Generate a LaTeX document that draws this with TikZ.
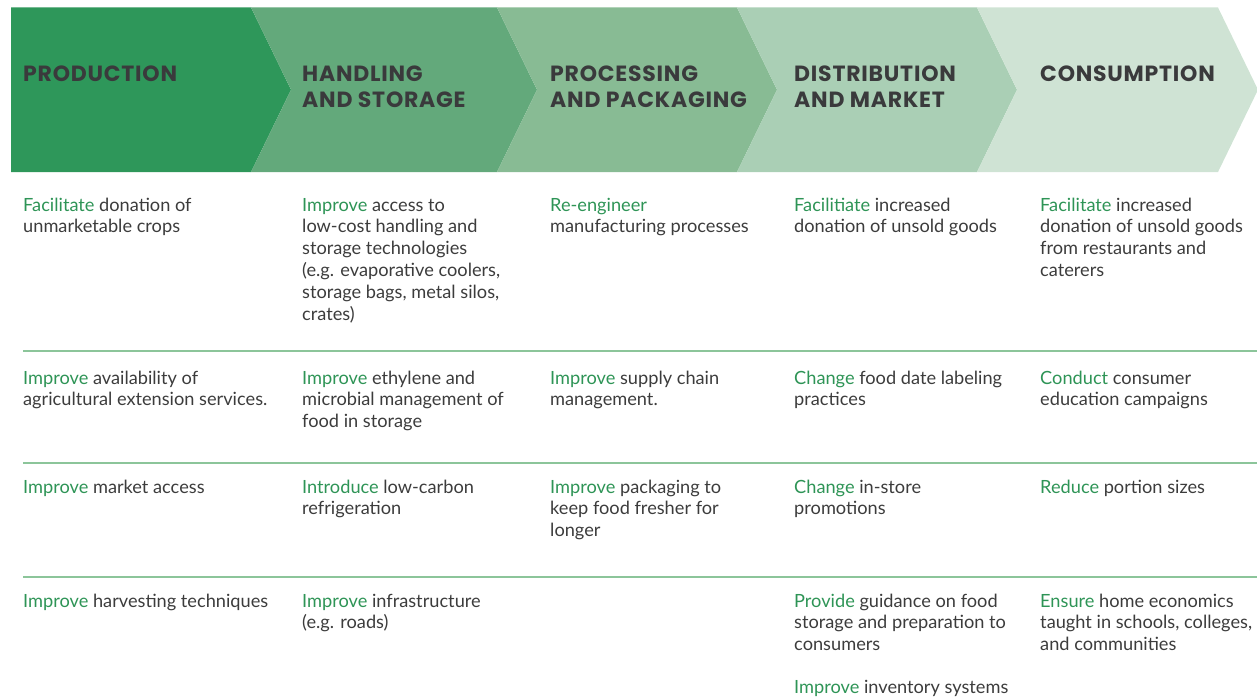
\documentclass[tikz,border=0pt]{standalone}
\usepackage{fontspec}
\setmainfont{Lato}
\newfontfamily\hdrfont{Poppins}[LetterSpace=3.5]
\usetikzlibrary{positioning}
\definecolor{arA}{HTML}{2E975A}
\definecolor{arB}{HTML}{63A97B}
\definecolor{arC}{HTML}{88BB94}
\definecolor{arD}{HTML}{AACFB5}
\definecolor{arE}{HTML}{CFE3D4}
\definecolor{hdtxt}{HTML}{3A3A3C}
\definecolor{bodytxt}{HTML}{3C3C3C}
\definecolor{grn}{HTML}{2E9456}
\definecolor{sepline}{HTML}{8CC59A}
\newcommand{\gw}[1]{\textcolor{grn}{#1}}
\newcommand{\cellt}[1]{\begin{tabular}[t]{@{}l@{}}#1\end{tabular}}
\tikzset{
  hdr/.style={anchor=base west, inner sep=0pt, text=hdtxt, font=\hdrfont\fontsize{22}{25}\selectfont\bfseries, align=left},
  cellbox/.style={anchor=base west, inner sep=0pt, text=bodytxt, font=\fontsize{18.2}{21.8}\selectfont},
  sep/.style={draw=sepline, line width=1.4pt},
}
\begin{document}
\begin{tikzpicture}[x=1pt,y=-1pt]
\useasboundingbox (0,0) rectangle (1257,698);
% header chevrons
\def\yt{7.5}\def\yb{172}\def\ym{89.75}
\fill[arA] (11,\yt) -- (251,\yt) -- (291,\ym) -- (251,\yb) -- (11,\yb) -- cycle;
\fill[arB] (251,\yt) -- (497,\yt) -- (537,\ym) -- (497,\yb) -- (251,\yb) -- (291,\ym) -- cycle;
\fill[arC] (497,\yt) -- (737,\yt) -- (777,\ym) -- (737,\yb) -- (497,\yb) -- (537,\ym) -- cycle;
\fill[arD] (737,\yt) -- (977,\yt) -- (1017,\ym) -- (977,\yb) -- (737,\yb) -- (777,\ym) -- cycle;
\fill[arE] (977,\yt) -- (1218,\yt) -- (1258,\ym) -- (1218,\yb) -- (977,\yb) -- (1017,\ym) -- cycle;
% header labels
\node[hdr] (h1) at (23,82) {PRODUCTION};
\node[hdr] (h2) at (302,82) {\cellt{HANDLING\\AND STORAGE}};
\node[hdr] (h3) at (550,82) {\cellt{PROCESSING\\AND PACKAGING}};
\node[hdr] (h4) at (794,82) {\cellt{DISTRIBUTION\\AND MARKET}};
\node[hdr] (h5) at (1040,82) {CONSUMPTION};
% separators
\coordinate (s1a) at (23,351); \coordinate (s1b) at (1257,351);
\coordinate (s2a) at (23,463); \coordinate (s2b) at (1257,463);
\coordinate (s3a) at (23,577); \coordinate (s3b) at (1257,577);
\draw[sep] (s1a) -- (s1b);
\draw[sep] (s2a) -- (s2b);
\draw[sep] (s3a) -- (s3b);
% row 1
\node[cellbox] (r1c1) at (23,211) {\cellt{\gw{Facilitate} donation of\\unmarketable crops}};
\node[cellbox] (r1c2) at (302,211) {\cellt{\gw{Improve} access to\\low-cost handling and\\storage technologies\\(e.g. evaporative coolers,\\storage bags, metal silos,\\crates)}};
\node[cellbox] (r1c3) at (550,211) {\cellt{\gw{Re-engineer}\\manufacturing processes}};
\node[cellbox] (r1c4) at (794,211) {\cellt{\gw{Facilitiate} increased\\donation of unsold goods}};
\node[cellbox] (r1c5) at (1040,211) {\cellt{\gw{Facilitate} increased\\donation of unsold goods\\from restaurants and\\caterers}};
% row 2
\node[cellbox] (r2c1) at (23,384) {\cellt{\gw{Improve} availability of\\agricultural extension services.}};
\node[cellbox] (r2c2) at (302,384) {\cellt{\gw{Improve} ethylene and\\microbial management of\\food in storage}};
\node[cellbox] (r2c3) at (550,384) {\cellt{\gw{Improve} supply chain\\management.}};
\node[cellbox] (r2c4) at (794,384) {\cellt{\gw{Change} food date labeling\\practices}};
\node[cellbox] (r2c5) at (1040,384) {\cellt{\gw{Conduct} consumer\\education campaigns}};
% row 3
\node[cellbox] (r3c1) at (23,493) {\gw{Improve} market access};
\node[cellbox] (r3c2) at (302,493) {\cellt{\gw{Introduce} low-carbon\\refrigeration}};
\node[cellbox] (r3c3) at (550,493) {\cellt{\gw{Improve} packaging to\\keep food fresher for\\longer}};
\node[cellbox] (r3c4) at (794,493) {\cellt{\gw{Change} in-store\\promotions}};
\node[cellbox] (r3c5) at (1040,493) {\gw{Reduce} portion sizes};
% row 4
\node[cellbox] (r4c1) at (23,607) {\gw{Improve} harvesting techniques};
\node[cellbox] (r4c2) at (302,607) {\cellt{\gw{Improve} infrastructure\\(e.g. roads)}};
\node[cellbox] (r4c4) at (794,607) {\cellt{\gw{Provide} guidance on food\\storage and preparation to\\consumers}};
\node[cellbox] (r4c5) at (1040,607) {\cellt{\gw{Ensure} home economics\\taught in schools, colleges,\\and communities}};
\node[cellbox] (r5c4) at (794,693) {\gw{Improve} inventory systems};
\end{tikzpicture}
\end{document}
